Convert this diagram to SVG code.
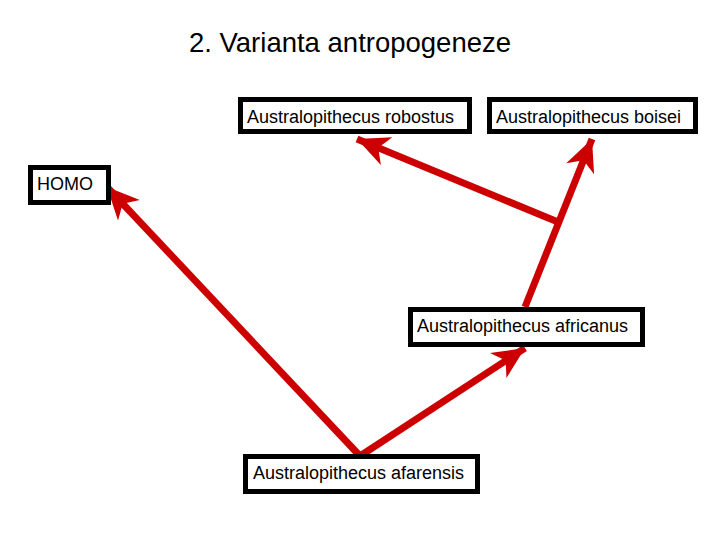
<svg xmlns="http://www.w3.org/2000/svg" width="720" height="540" viewBox="0 0 720 540">
<defs>
<style>
.box{fill:#fff;stroke:#000;stroke-width:5}
.lbl{font-family:"Liberation Sans",Arial,sans-serif;font-size:18px;fill:#000}
.arr{stroke:#cc0000;stroke-width:7;fill:none;stroke-linecap:butt}
</style>
<marker id="ah" viewBox="-34 -17 36 34" refX="0" refY="0" markerWidth="36" markerHeight="34" markerUnits="userSpaceOnUse" orient="auto">
<path d="M0,0 L-32,-15 L-23,0 L-32,15 Z" fill="#cc0000"/>
</marker>
</defs>
<rect width="720" height="540" fill="#fff"/>
<text x="350" y="52" text-anchor="middle" font-family="Liberation Sans,Arial,sans-serif" font-size="27.5" fill="#000">2. Varianta antropogeneze</text>
<g id="connectors">
<path class="arr" d="M360,456 L107,187" marker-end="url(#ah)"/>
<path class="arr" d="M360,456 L525,348" marker-end="url(#ah)"/>
<path class="arr" d="M525,307 L592,139" marker-end="url(#ah)"/>
<path class="arr" d="M558,222 L357,139" marker-end="url(#ah)"/>
</g>
<g id="robostus"><rect class="box" x="240.5" y="99.5" width="229" height="32"/><text class="lbl" x="247" y="123">Australopithecus robostus</text></g>
<g id="boisei"><rect class="box" x="489.5" y="99.5" width="206" height="32"/><text class="lbl" x="496" y="123">Australopithecus boisei</text></g>
<g id="homo"><rect class="box" x="30.5" y="167.5" width="78" height="35"/><text class="lbl" x="37" y="190">HOMO</text></g>
<g id="africanus"><rect class="box" x="410.5" y="309.5" width="232" height="35"/><text class="lbl" x="417" y="332">Australopithecus africanus</text></g>
<g id="afarensis"><rect class="box" x="245.5" y="456.5" width="232" height="35"/><text class="lbl" x="253" y="479">Australopithecus afarensis</text></g>
</svg>
